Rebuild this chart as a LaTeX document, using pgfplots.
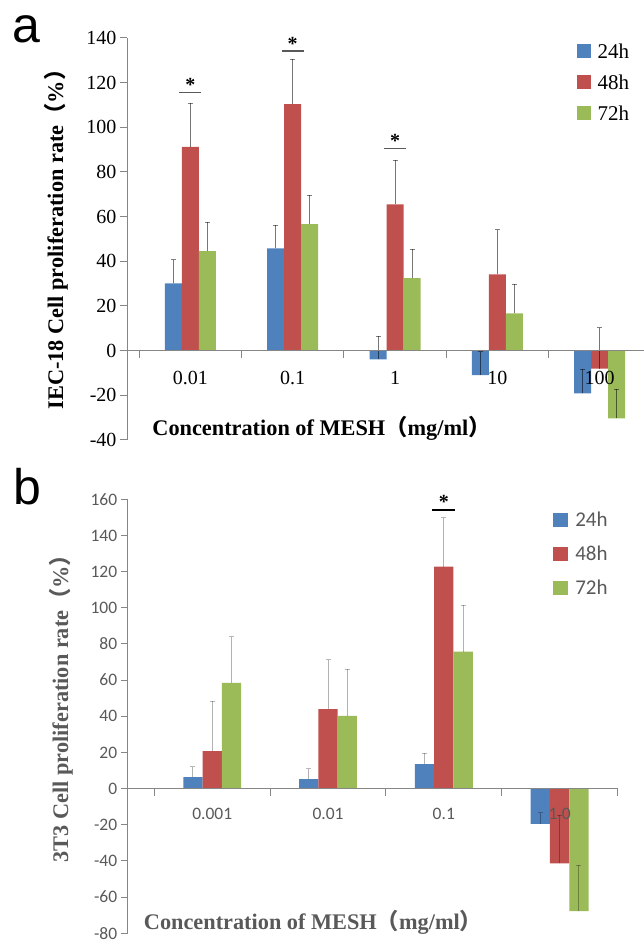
\documentclass[border=0pt]{standalone}
\usepackage{pgfplots}
\usepackage{pgfplotstable}
\pgfplotsset{compat=1.18}
\usepackage{fontspec}
\setmainfont{Liberation Serif}
\newfontfamily\carlito{Carlito}
\newfontfamily\arialf{Liberation Sans}
\newfontfamily\cjk{Noto Sans CJK SC}
\definecolor{cblue}{HTML}{4F81BD}
\definecolor{cred}{HTML}{C0504D}
\definecolor{cgreen}{HTML}{9BBB59}
\definecolor{axgray}{HTML}{868686}
\definecolor{txtgray}{HTML}{595959}

% Panel a: IEC-18
\pgfplotstableread{
x y e
0 30.1 10.6
1 45.8 10.3
2 -3.9 10.3
3 -11.0 10.6
4 -19.1 10.7
}\aBlue
\pgfplotstableread{
x y e
0 91.2 19.5
1 110.4 20.0
2 65.5 19.7
3 34.2 20.0
4 -8.0 18.3
}\aRed
\pgfplotstableread{
x y e
0 44.6 13.0
1 56.7 13.0
2 32.5 13.0
3 16.7 13.0
4 -30.3 13.1
}\aGreen
% Panel b: 3T3
\pgfplotstableread{
x y e
0 6.4 5.7
1 5.2 5.7
2 13.6 5.9
3 -19.5 6.1
}\bBlue
\pgfplotstableread{
x y e
0 20.8 27.4
1 44.0 27.2
2 122.7 27.2
3 -41.4 26.7
}\bRed
\pgfplotstableread{
x y e
0 58.5 25.6
1 40.3 25.7
2 75.8 25.7
3 -67.7 25.4
}\bGreen

\pgfplotsset{
  common/.style={
    scale only axis, anchor=south west,
    axis x line=middle, axis y line=left,
    axis line style={-, axgray, line width=1pt},
    tick align=outside, major tick length=7pt,
    tick style={axgray, line width=1pt},
    x tick label as interval,
    hide obscured x ticks=false, hide obscured y ticks=false,
    /pgf/number format/assume math mode=true,
    clip=false, axis on top,
    legend cell align=left,
  },
}

\begin{document}
\begin{tikzpicture}[x=1pt,y=1pt]
\path[use as bounding box] (0,0) rectangle (643,940);

% ---------------- Panel a ----------------
\begin{axis}[common,
  at={(127pt,500pt)}, width=523.8pt, height=402pt,
  xmin=-0.62, xmax=4.5, ymin=-40, ymax=140,
  ytick={-40,-20,...,140},
  xtick={-0.5,0.5,...,4.5},
  xticklabels={0.01,0.1,1,10,100},
  ticklabel style={font=\fontsize{20}{20}\selectfont, text=black},
  xticklabel style={yshift=-10pt},
  legend image code/.code={\fill[#1] (0pt,-7pt) rectangle (14pt,7pt);},
  legend style={draw=none, fill=none, inner sep=0pt, outer sep=0pt,
    at={(0.8585,0.984)}, anchor=north west,
    font=\fontsize{21}{21}\selectfont,
    nodes={inner sep=0pt, text height=14pt, text depth=0pt},
    row sep=17pt, column sep=7pt},
]
\addplot[ybar, bar width=17pt, bar shift=0pt, fill=cblue, draw=none,
  error bars/.cd, y dir=plus, y explicit,
  error bar style={line width=0.9pt, black, opacity=0.5},
  error mark options={line width=0.9pt, black, opacity=0.5, mark size=2.5pt, rotate=90}]
  table[x expr=\thisrow{x}-0.1662, y=y, y error=e] {\aBlue};
\addplot[ybar, bar width=17pt, bar shift=0pt, fill=cred, draw=none,
  error bars/.cd, y dir=plus, y explicit,
  error bar style={line width=0.9pt, black, opacity=0.5},
  error mark options={line width=0.9pt, black, opacity=0.5, mark size=2.5pt, rotate=90}]
  table[x=x, y=y, y error=e] {\aRed};
\addplot[ybar, bar width=17pt, bar shift=0pt, fill=cgreen, draw=none,
  error bars/.cd, y dir=plus, y explicit,
  error bar style={line width=0.9pt, black, opacity=0.5},
  error mark options={line width=0.9pt, black, opacity=0.5, mark size=2.5pt, rotate=90}]
  table[x expr=\thisrow{x}+0.1662, y=y, y error=e] {\aGreen};
\legend{24h,48h,72h}
% significance marks
\draw[txtgray, line width=1.5pt] (axis cs:-0.107,115.5) -- (axis cs:0.107,115.5);
\node[font=\bfseries\fontsize{20}{20}\selectfont, anchor=base, inner sep=0pt] at (axis cs:0,116) {*};
\draw[txtgray, line width=1.5pt] (axis cs:0.893,134.1) -- (axis cs:1.107,134.1);
\node[font=\bfseries\fontsize{20}{20}\selectfont, anchor=base, inner sep=0pt] at (axis cs:1,134.6) {*};
\draw[txtgray, line width=1.5pt] (axis cs:1.893,90.5) -- (axis cs:2.107,90.5);
\node[font=\bfseries\fontsize{20}{20}\selectfont, anchor=base, inner sep=0pt] at (axis cs:2,91) {*};
\end{axis}

% ---------------- Panel b ----------------
\begin{axis}[common,
  at={(127.7pt,6.7pt)}, width=489.8pt, height=434pt,
  xmin=-0.73, xmax=3.5, ymin=-80, ymax=160,
  ytick={-80,-60,...,160},
  xtick={-0.5,0.5,...,3.5},
  xticklabels={0.001,0.01,0.1,1.0},
  ticklabel style={font=\carlito\fontsize{17.5}{17.5}\selectfont, text=txtgray},
  xticklabel style={yshift=-9pt},
  legend image code/.code={\fill[#1] (0pt,-7pt) rectangle (14.4pt,7pt);},
  legend style={draw=none, fill=none, inner sep=0pt, outer sep=0pt,
    at={(0.869,0.969)}, anchor=north west,
    font=\carlito\fontsize{21}{21}\selectfont, text=txtgray,
    nodes={inner sep=0pt, text height=14pt, text depth=0pt},
    row sep=20pt, column sep=7.6pt},
]
\addplot[ybar, bar width=19.3pt, bar shift=0pt, fill=cblue, draw=none,
  error bars/.cd, y dir=plus, y explicit,
  error bar style={line width=0.9pt, black, opacity=0.28},
  error mark options={line width=0.9pt, black, opacity=0.28, mark size=2.5pt, rotate=90}]
  table[x expr=\thisrow{x}-0.1667, y=y, y error=e] {\bBlue};
\addplot[ybar, bar width=19.3pt, bar shift=0pt, fill=cred, draw=none,
  error bars/.cd, y dir=plus, y explicit,
  error bar style={line width=0.9pt, black, opacity=0.28},
  error mark options={line width=0.9pt, black, opacity=0.28, mark size=2.5pt, rotate=90}]
  table[x=x, y=y, y error=e] {\bRed};
\addplot[ybar, bar width=19.3pt, bar shift=0pt, fill=cgreen, draw=none,
  error bars/.cd, y dir=plus, y explicit,
  error bar style={line width=0.9pt, black, opacity=0.28},
  error mark options={line width=0.9pt, black, opacity=0.28, mark size=2.5pt, rotate=90}]
  table[x expr=\thisrow{x}+0.1667, y=y, y error=e] {\bGreen};
\legend{24h,48h,72h}
\draw[black, line width=1.5pt] (axis cs:1.902,154.2) -- (axis cs:2.098,154.2);
\node[font=\bfseries\fontsize{20}{20}\selectfont, anchor=base, inner sep=0pt] at (axis cs:2,154.7) {*};
\end{axis}

% panel letters and axis titles
\node[font=\arialf\fontsize{50}{50}\selectfont, anchor=base, inner sep=0pt] at (26,897) {a};
\node[font=\arialf\fontsize{50}{50}\selectfont, anchor=base, inner sep=0pt] at (27.5,435) {b};
\node[font=\bfseries\fontsize{22.3}{22.3}\selectfont, anchor=base, inner sep=0pt] at (321.5,504)
  {Concentration of MESH{\cjk （}mg/ml{\cjk ）}};
\node[font=\bfseries\fontsize{22.3}{22.3}\selectfont, anchor=base, inner sep=0pt, rotate=90] at (63,706)
  {IEC-18 Cell proliferation rate{\cjk （}\%{\cjk ）}};
\node[font=\bfseries\fontsize{22.3}{22.3}\selectfont, anchor=base, inner sep=0pt, text=txtgray] at (313,10)
  {Concentration of MESH{\cjk （}mg/ml{\cjk ）}};
\node[font=\bfseries\fontsize{22.3}{22.3}\selectfont, anchor=base, inner sep=0pt, rotate=90, text=txtgray] at (68,237)
  {3T3 Cell proliferation rate{\cjk （}\%{\cjk ）}};
\end{tikzpicture}
\end{document}
